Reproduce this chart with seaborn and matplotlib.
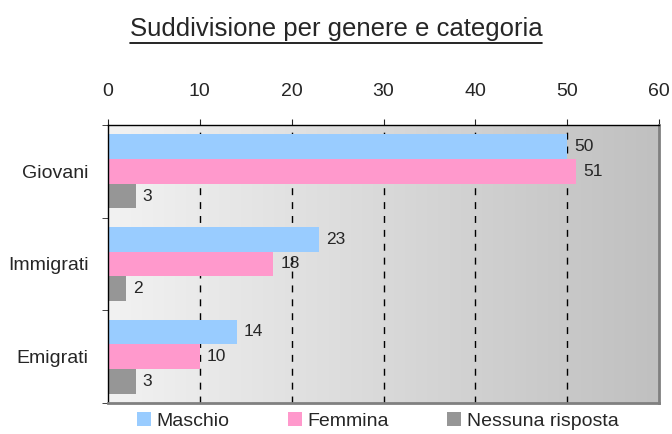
import numpy as np
import pandas as pd
import seaborn as sns
import matplotlib.pyplot as plt
from matplotlib.lines import Line2D

# Data
categorie = ["Giovani", "Immigrati", "Emigrati"]
genere = ["Maschio", "Femmina", "Nessuna risposta"]
maschio = [50, 23, 14]
femmina = [51, 18, 10]
nessuna = [3, 2, 3]
x_ticks = [0, 10, 20, 30, 40, 50, 60]

df = pd.DataFrame({
    "categoria": categorie * 3,
    "genere": [g for g in genere for _ in categorie],
    "valore": maschio + femmina + nessuna,
})

colori = ["#99CCFF", "#FF99CC", "#969696"]

sns.set_style("white")
plt.rcParams["font.family"] = ["Liberation Sans", "DejaVu Sans"]

fig = plt.figure(figsize=(6.72, 4.34), dpi=100)
ax = fig.add_axes([108 / 672, 1 - 403 / 434, (659 - 108) / 672, (403 - 125) / 434])

# gradient background
grad = np.linspace(0, 1, 256).reshape(1, -1)
ax.imshow(grad, extent=[0, 1, 0, 1], transform=ax.transAxes, aspect="auto",
          cmap=plt.matplotlib.colors.LinearSegmentedColormap.from_list("g", ["#F2F2F2", "#C0C0C0"]),
          zorder=0)

sns.barplot(data=df, x="valore", y="categoria", hue="genere", orient="h",
            order=categorie, hue_order=genere, palette=colori, width=0.8,
            saturation=1, ax=ax, zorder=2, legend=True, linewidth=0)

for c in ax.containers:
    ax.bar_label(c, padding=5, fontsize=12.5)

ax.set_xlim(0, 60)
ax.set_ylim(2.5, -0.5)
ax.set_xticks(x_ticks)
ax.xaxis.tick_top()
ax.tick_params(axis="x", labelsize=14, length=4, direction="out", top=True, bottom=False, pad=14)
ax.tick_params(axis="y", which="major", length=0, labelsize=14, pad=14)
ax.set_yticks([-0.5, 0.5, 1.5, 2.5], minor=True)
ax.tick_params(axis="y", which="minor", length=4, direction="out", left=True)
ax.set_xlabel("")
ax.set_ylabel("")

for v in x_ticks[1:-1]:
    ax.axvline(v, color="black", lw=1, ls=(0, (5, 5)), zorder=1)

for s in ["top", "left"]:
    ax.spines[s].set_color("black")
    ax.spines[s].set_linewidth(1)
for s in ["right", "bottom"]:
    ax.spines[s].set_color("#808080")
    ax.spines[s].set_linewidth(2)

leg = ax.legend(loc="upper center", bbox_to_anchor=(0.49, -0.018), ncol=3, frameon=False,
                fontsize=14, handlelength=0.7, handleheight=0.7, handletextpad=0.3,
                columnspacing=3.0, borderaxespad=0, borderpad=0.2)

# underlined title
t = fig.text(0.5, 1 - 29 / 434, "Suddivisione per genere e categoria", ha="center",
             va="center", fontsize=18.5)
fig.canvas.draw()
bb = t.get_window_extent().transformed(fig.transFigure.inverted())
fig.add_artist(Line2D([bb.x0, bb.x1], [bb.y0 - 0.004, bb.y0 - 0.004], color="black", lw=1.2,
                      transform=fig.transFigure))

plt.savefig("out.png", dpi=100)
